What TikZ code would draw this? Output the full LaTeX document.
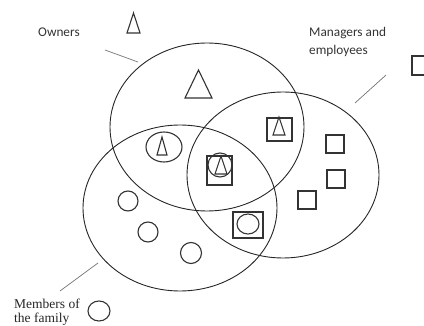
\documentclass[tikz,border=0pt]{standalone}
\usepackage{fontspec}
\setmainfont{Liberation Serif}
\newfontfamily\calib{Carlito}
\usetikzlibrary{shapes.geometric}
\tikzset{
  setring/.style={draw=black!85, line width=0.9pt, ellipse, inner sep=0pt, fill=none},
  mark shape/.style={draw=black!80, line width=1.1pt},
  leader/.style={draw=black!55, line width=0.7pt},
  sanslabel/.style={font=\calib\fontsize{13.3}{16}\selectfont, text=black!80, inner sep=0pt, anchor=base west},
  seriflabel/.style={font=\fontsize{13.5}{15}\selectfont, text=black!85, inner sep=0pt, anchor=base west}
}
\newcommand{\mytri}[4]{% apex x, apex y, half width, height
  \draw[mark shape, line join=miter] (#1,#2) -- (#1+#3,#2+#4) -- (#1-#3,#2+#4) -- cycle;}
\begin{document}
\begin{tikzpicture}[x=1pt,y=-1pt]
\useasboundingbox (0,0) rectangle (424,326);
\clip (0,0) rectangle (424,326);
% three sets
\node[setring, minimum width=194pt, minimum height=168pt] (owners) at (207,127) {};
\node[setring, minimum width=192pt, minimum height=166pt] (managers) at (283,175) {};
\node[setring, minimum width=194pt, minimum height=166pt] (family) at (180,208) {};
% labels
\node[sanslabel] (lowners) at (38,37) {Owners};
\node[sanslabel] (lman1) at (309,37) {Managers and};
\node[sanslabel] (lman2) at (309,55) {employees};
\node[seriflabel] (lfam1) at (14,309) {Members of};
\node[seriflabel] (lfam2) at (14,323) {the family};
% leader lines
\coordinate (o1) at (105,50); \coordinate (o2) at (138,62);
\coordinate (m1) at (355,103); \coordinate (m2) at (386,75);
\coordinate (f1) at (60,291); \coordinate (f2) at (98,263);
\draw[leader] (o1) -- (o2);
\draw[leader] (m1) -- (m2);
\draw[leader] (f1) -- (f2);
% legend symbols
\mytri{133.5}{13}{6.5}{20}
\draw[mark shape] (412,56) rectangle (431,75);
\draw[mark shape] (99,311) ellipse [x radius=11, y radius=10];
% owners only
\mytri{198.5}{70}{13.5}{28}
% owners + family
\draw[mark shape] (164,147) ellipse [x radius=18, y radius=15];
\mytri{162}{137}{5}{18}
% owners + managers
\draw[mark shape] (267,118) rectangle (292,141);
\mytri{279}{117}{6}{18}
% all three
\draw[mark shape] (207,156) rectangle (232,185);
\draw[mark shape] (220,165) circle [radius=12];
\mytri{221}{156}{6}{18}
% managers + family
\draw[mark shape] (233,212) rectangle (263,238);
\draw[mark shape] (248,224) ellipse [x radius=11, y radius=10];
% managers only
\draw[mark shape] (326,135) rectangle (344,153);
\draw[mark shape] (327,170) rectangle (345,188);
\draw[mark shape] (298,191) rectangle (316,209);
% family only
\draw[mark shape] (128,201) circle [radius=10];
\draw[mark shape] (148,232) circle [radius=10];
\draw[mark shape] (191,253) circle [radius=10.5];
\end{tikzpicture}
\end{document}
